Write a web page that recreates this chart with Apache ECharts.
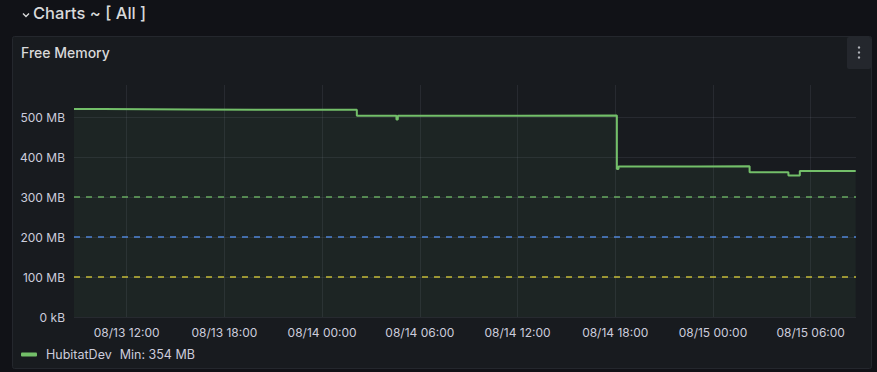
<!DOCTYPE html>
<html>
<head>
<meta charset="utf-8">
<script src="https://cdn.jsdelivr.net/npm/echarts@6/dist/echarts.min.js"></script>
<style>
html,body{margin:0;padding:0;background:#111217;}
#c{width:877px;height:372px;}
</style>
</head>
<body>
<div id="c"></div>
<script>
// ---- data ----
const seriesName = 'HubitatDev';
const times = [
  '2023-08-13T08:46Z','2023-08-13T10:30Z','2023-08-13T16:00Z','2023-08-13T21:00Z',
  '2023-08-14T02:08Z','2023-08-14T04:34Z','2023-08-14T04:39Z','2023-08-14T12:00Z',
  '2023-08-14T18:06Z','2023-08-14T18:12Z','2023-08-14T23:00Z','2023-08-15T02:15Z',
  '2023-08-15T04:38Z','2023-08-15T05:20Z','2023-08-15T08:46Z'
];
const freeMB = [520, 519, 518, 518, 503, 494, 503, 504, 370, 376, 377, 362, 354, 365, 365];
const thresholdValues = [300, 200, 100];
const thresholdColors = ['#73BF69', '#5794F2', '#E0D43B'];
const xTickLabels = ['2023-08-13T12:00Z','2023-08-13T18:00Z','2023-08-14T00:00Z','2023-08-14T06:00Z',
  '2023-08-14T12:00Z','2023-08-14T18:00Z','2023-08-15T00:00Z','2023-08-15T06:00Z'];
const xRange = ['2023-08-13T08:46Z', '2023-08-15T08:47Z'];
const yMax = 580;

// ---- build ----
const pts = times.map((t, i) => [Date.parse(t), freeMB[i]]);
const tickVals = xTickLabels.map(t => Date.parse(t));
const minVal = Math.min.apply(null, freeMB);
const pad = n => (n < 10 ? '0' : '') + n;
function fmtX(v) {
  const d = new Date(v);
  return pad(d.getUTCMonth() + 1) + '/' + pad(d.getUTCDate()) + ' ' + pad(d.getUTCHours()) + ':' + pad(d.getUTCMinutes());
}
const txt = '#ccccdc';
const chart = echarts.init(document.getElementById('c'), null, {renderer: 'svg'});
chart.setOption({
  backgroundColor: '#111217',
  animation: false,
  textStyle: {fontFamily: 'Inter, "Noto Sans", sans-serif'},
  graphic: [
    {type: 'rect', shape: {x: 12.5, y: 36.5, width: 859, height: 332, r: 2},
     style: {fill: '#181b1f', stroke: '#24272d', lineWidth: 1}, z: -10},
    {type: 'polyline', shape: {points: [[23, 13.5], [26, 16.5], [29, 13.5]]},
     style: {stroke: '#d8d9da', lineWidth: 1.4, fill: null}},
    {type: 'text', left: 33, top: 4,
     style: {text: 'Charts ~ [ All ]', fill: '#d8d9da', fontSize: 16.5, fontWeight: 500, fontFamily: 'Inter, sans-serif'}},
    {type: 'text', left: 21, top: 45,
     style: {text: 'Free Memory', fill: '#d8d9da', fontSize: 14, fontWeight: 500, fontFamily: 'Inter, sans-serif'}},
    {type: 'rect', shape: {x: 847, y: 37, width: 24, height: 32, r: 2}, style: {fill: '#24272d'}},
    {type: 'circle', shape: {cx: 859, cy: 47.5, r: 1.2}, style: {fill: '#b0b3ba'}},
    {type: 'circle', shape: {cx: 859, cy: 52.5, r: 1.2}, style: {fill: '#b0b3ba'}},
    {type: 'circle', shape: {cx: 859, cy: 57.5, r: 1.2}, style: {fill: '#b0b3ba'}}
  ],
  grid: {left: 74, right: 21, top: 85, bottom: 55, containLabel: false},
  legend: {
    left: 16, top: 343, itemWidth: 16, itemHeight: 4, itemGap: 10,
    icon: 'roundRect',
    data: [seriesName],
    formatter: n => '{a|' + n + '}{b|Min: ' + minVal + ' MB}',
    textStyle: {color: txt, fontSize: 12.5, fontFamily: 'Inter, sans-serif',
      rich: {a: {color: txt, fontSize: 12.5, padding: [0, 8, 0, 4]}, b: {color: txt, fontSize: 12.5}}}
  },
  xAxis: {
    type: 'value',
    min: Date.parse(xRange[0]), max: Date.parse(xRange[1]),
    axisLine: {show: false}, axisTick: {show: false, customValues: tickVals},
    axisLabel: {customValues: tickVals, formatter: fmtX, color: txt, fontSize: 12, margin: 9},
    splitLine: {show: true, lineStyle: {color: 'rgba(204,204,220,0.09)', width: 1}}
  },
  yAxis: {
    type: 'value', min: 0, max: yMax, interval: 100,
    axisLine: {show: false}, axisTick: {show: false},
    axisLabel: {color: txt, fontSize: 12, margin: 9, showMaxLabel: false,
      formatter: v => (v === 0 ? '0 kB' : v + ' MB')},
    splitLine: {show: true, showMaxLine: false, lineStyle: {color: 'rgba(204,204,220,0.09)', width: 1}}
  },
  series: [{
    name: seriesName, type: 'line', step: 'end', showSymbol: false,
    data: pts,
    itemStyle: {color: '#73BF69'},
    lineStyle: {color: '#73BF69', width: 2},
    areaStyle: {color: 'rgba(115,191,105,0.09)'},
    markLine: {
      silent: true, symbol: 'none', label: {show: false},
      data: thresholdValues.map((v, i) => ({
        yAxis: v,
        lineStyle: {color: thresholdColors[i], type: [6, 6], width: 1.5, opacity: 0.85}
      }))
    }
  }]
});
</script>
</body>
</html>
